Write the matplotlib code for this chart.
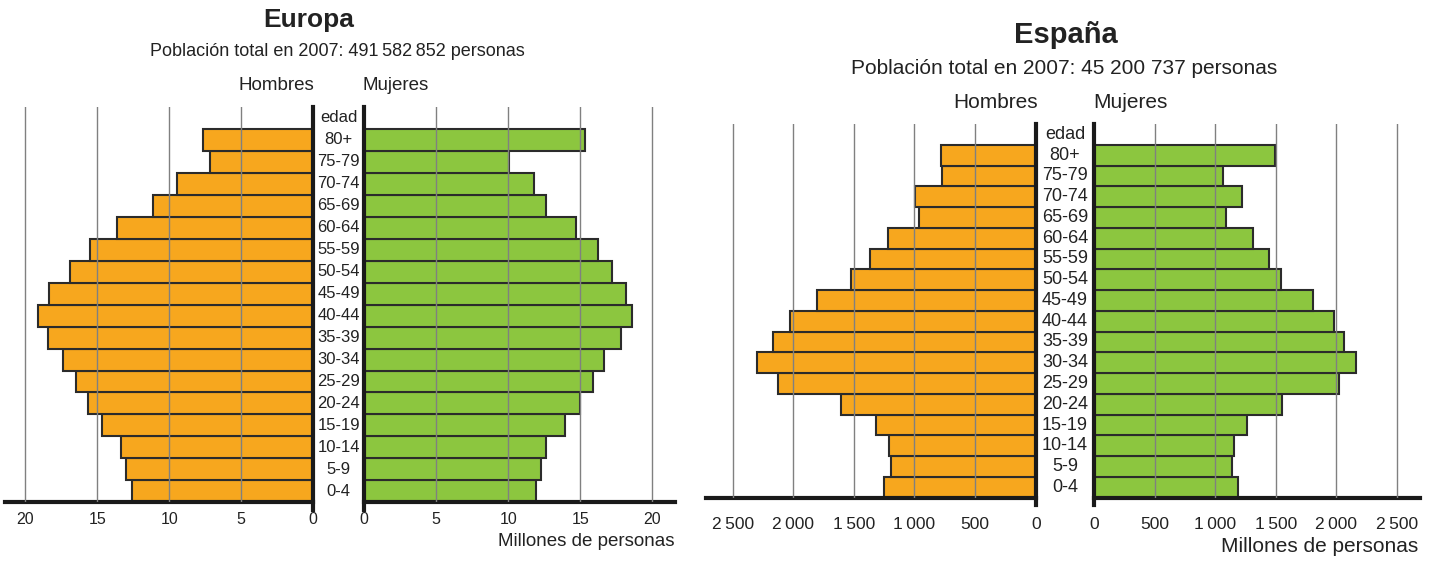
import matplotlib
matplotlib.use('Agg')
import matplotlib.pyplot as plt
from matplotlib.transforms import blended_transform_factory

plt.rcParams['font.family'] = ['Liberation Sans', 'DejaVu Sans']

# ── Data ──────────────────────────────────────────────────────────────────────
edades = ['0-4', '5-9', '10-14', '15-19', '20-24', '25-29', '30-34', '35-39',
          '40-44', '45-49', '50-54', '55-59', '60-64', '65-69', '70-74',
          '75-79', '80+']

europa_hombres = [12.6, 13.0, 13.35, 14.7, 15.65, 16.5, 17.35, 18.45, 19.1,
                  18.35, 16.9, 15.5, 13.6, 11.1, 9.45, 7.15, 7.65]
europa_mujeres = [11.95, 12.3, 12.65, 13.95, 14.95, 15.85, 16.65, 17.8, 18.6,
                  18.15, 17.2, 16.2, 14.7, 12.65, 11.8, 10.05, 15.3]

espana_hombres = [1250, 1195, 1210, 1320, 1610, 2125, 2300, 2165, 2025, 1805,
                  1520, 1370, 1215, 960, 995, 775, 785]
espana_mujeres = [1190, 1140, 1155, 1265, 1555, 2020, 2165, 2060, 1980, 1810,
                  1545, 1440, 1315, 1085, 1220, 1060, 1490]

europa_ticks = [0, 5, 10, 15, 20]
europa_ticklabels = ['0', '5', '10', '15', '20']
espana_ticks = [0, 500, 1000, 1500, 2000, 2500]
espana_ticklabels = ['0', '500', '1\u2009000', '1\u2009500', '2\u2009000', '2\u2009500']

NARANJA = '#F7A71E'
VERDE = '#8CC63F'
BORDE = '#2b2b2b'
GRIS = '#808080'

W, H = 1435, 561
fig = plt.figure(figsize=(W / 100, H / 100), dpi=100)


def px_rect(x0, x1, ytop, ybot):
    return [x0 / W, 1 - ybot / H, (x1 - x0) / W, (ybot - ytop) / H]


def piramide(rect_h, rect_m, hombres, mujeres, xmax_h, xmax_m, ticks, labels,
             fs, fs_edad, tick_pad):
    ax_h = fig.add_axes(rect_h)
    ax_m = fig.add_axes(rect_m)
    y = list(range(len(edades)))
    ax_h.barh(y, hombres, height=1.0, color=NARANJA, edgecolor=BORDE, lw=1.5)
    ax_m.barh(y, mujeres, height=1.0, color=VERDE, edgecolor=BORDE, lw=1.5)
    ax_h.set_xlim(xmax_h, 0)
    ax_m.set_xlim(0, xmax_m)
    for ax, inner in ((ax_h, 'right'), (ax_m, 'left')):
        ax.set_ylim(-0.5, len(edades) + 0.5)
        for s in ax.spines.values():
            s.set_visible(False)
        ax.spines['bottom'].set_visible(True)
        ax.spines['bottom'].set_linewidth(3)
        ax.spines['bottom'].set_color('#1a1a1a')
        ax.set_yticks([])
        ax.set_xticks(ticks)
        ax.set_xticklabels(labels, fontsize=fs, color='#222')
        ax.tick_params(axis='x', length=0, pad=tick_pad)
        for t in ticks[1:]:
            ax.axvline(t, color=GRIS, lw=1, zorder=3)
        ax.plot([0, 0], [-0.85, len(edades) + 0.5], color='#1a1a1a', lw=3,
                clip_on=False, zorder=4)
    # age labels in the middle column
    x_mid = (rect_h[0] + rect_h[2] + rect_m[0]) / 2
    tr = blended_transform_factory(fig.transFigure, ax_m.transData)
    for yi, e in zip(y, edades):
        ax_m.text(x_mid, yi, e, transform=tr, ha='center', va='center',
                  fontsize=fs_edad, color='#222')
    ax_m.text(x_mid, len(edades), 'edad', transform=tr, ha='center',
              va='center', fontsize=fs_edad, color='#222')
    return ax_h, ax_m


# ── Europa ────────────────────────────────────────────────────────────────────
piramide(px_rect(5, 313.3, 107, 502.3), px_rect(364.3, 675, 107, 502.3),
         europa_hombres, europa_mujeres, 21.41, 21.58,
         europa_ticks, europa_ticklabels, 11.5, 12, 7)

fig.text(309 / W, 1 - 20 / H, 'Europa', ha='center', va='center',
         fontsize=19, fontweight='bold', color='#222')
fig.text(337 / W, 1 - 52 / H,
         'Población total en 2007: 491\u2009582\u2009852 personas',
         ha='center', va='center', fontsize=13, color='#222')
fig.text(276 / W, 1 - 86 / H, 'Hombres', ha='center', va='center',
         fontsize=13.5, color='#222')
fig.text(396 / W, 1 - 86 / H, 'Mujeres', ha='center', va='center',
         fontsize=13.5, color='#222')
fig.text(675 / W, 1 - 541 / H, 'Millones de personas', ha='right',
         va='center', fontsize=13.5, color='#222')

# ── España ────────────────────────────────────────────────────────────────────
piramide(px_rect(706, 1035.7, 124, 497.7), px_rect(1094.3, 1420, 124, 497.7),
         espana_hombres, espana_mujeres, 2720, 2692,
         espana_ticks, espana_ticklabels, 12.5, 13, 14)

fig.text(1066 / W, 1 - 35 / H, 'España', ha='center', va='center',
         fontsize=21, fontweight='bold', color='#222')
fig.text(1064 / W, 1 - 68 / H,
         'Población total en 2007: 45 200 737 personas',
         ha='center', va='center', fontsize=15, color='#222')
fig.text(996 / W, 1 - 102 / H, 'Hombres', ha='center', va='center',
         fontsize=15, color='#222')
fig.text(1130 / W, 1 - 102 / H, 'Mujeres', ha='center', va='center',
         fontsize=15, color='#222')
fig.text(1418 / W, 1 - 546 / H, 'Millones de personas', ha='right',
         va='center', fontsize=15, color='#222')

fig.savefig('out.png', dpi=100)
